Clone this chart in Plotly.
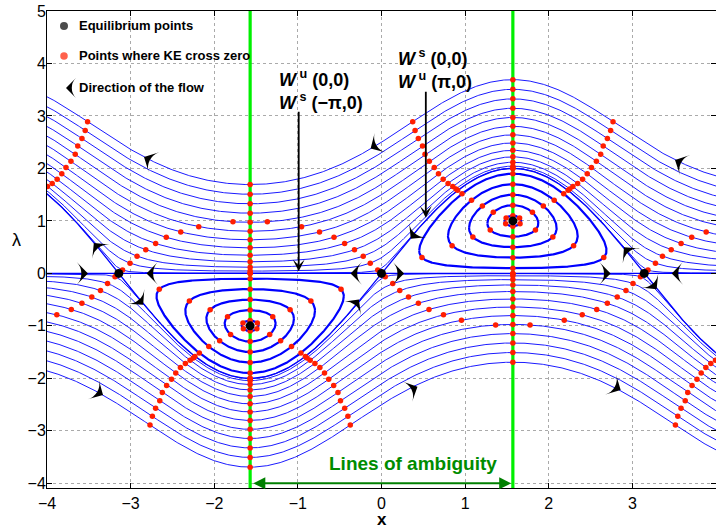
import numpy as np
import plotly.graph_objects as go

# ------------------------------------------------------------------
# Values
# ------------------------------------------------------------------
# lambda at x = +/-pi of every open flow line of the upper family
# (the lower family is the point mirror (x, l) -> (-x, -l))
open_lam_at_pi = [0.1, 0.3, 0.5, 0.7, 0.9, 1.1, 1.3, 1.5, 1.7, 1.9, 2.1, 2.3, 2.5]
# lambda at x = pi/2 of the lower crossing of each closed orbit round (pi/2, 1)
loop_lam_bottom = [0.1, 0.3, 0.5, 0.7, 0.9]
# equilibrium points
eq_x = [-np.pi, 0.0, np.pi, -np.pi / 2, np.pi / 2]
eq_y = [0.0, 0.0, 0.0, -1.0, 1.0]
# lines of ambiguity
amb_x = [-np.pi / 2, np.pi / 2]
# loci of the red "KE crosses zero" dots (upper half, one period)
ke_upper_x = [1.571, 1.34, 1.19, 1.07, 0.96, 0.86, 0.80, 0.74, 0.68, 0.63, 0.57, 0.52, 0.49, 0.44, 0.40, 0.37, 0.34]
ke_upper_y = [1.00, 1.16, 1.30, 1.40, 1.52, 1.65, 1.71, 1.79, 1.90, 2.02, 2.14, 2.27, 2.43, 2.57, 2.73, 2.91, 3.10]
ke_lower_x = [1.571, 1.29, 1.09, 0.85, 0.48, 0.0]
ke_lower_y = [1.00, 0.82, 0.69, 0.53, 0.30, 0.0]
ke_b_x = [-3.1416, -3.10, -3.01, -2.93, -2.82, -2.70, -2.57, -2.40, -2.19, -1.81, -1.571]
ke_b_y = [0.00, 0.06, 0.19, 0.32, 0.45, 0.57, 0.69, 0.79, 0.89, 0.98, 1.00]
# flow direction arrows
arrow_x = [-2.84, -3.44, -3.51, -2.81, -2.85, -0.37, 0.27, 0.35, -0.27, 2.90, 2.74, 3.47, 3.29, 3.51, 2.86, -3.33, 0.43, -0.13]
arrow_y = [2.22, 0.58, 0.0, 0.0, -0.60, 0.0, 0.0, 0.66, -0.50, 0.50, 0.0, 0.0, -0.30, 2.16, -2.22, -2.32, -2.16, 2.38]

# tick values
x_ticks = [-4, -3, -2, -1, 0, 1, 2, 3, 4]
y_ticks = [-4, -3, -2, -1, 0, 1, 2, 3, 4, 5]

# ------------------------------------------------------------------
# system: x' = sin x - l, l' = -l cos x ; first integral H = l sin x - l^2/2
# ------------------------------------------------------------------
def H(x, l):
    return l * np.sin(x) - l ** 2 / 2


XR = [-4, 4]
YR = [-4.09, 5.0005]
W, HH = 716, 529
ML, MR, MT, MB = 47, 0, 11, 41
sx = (W - ML - MR) / (XR[1] - XR[0])
sy = (HH - MT - MB) / (YR[1] - YR[0])

# open flow lines
xs = np.linspace(-4.3, 4.3, 700)
s = np.sin(xs)
ox, oy = [], []
open_c = [-(v ** 2) / 2 for v in open_lam_at_pi]
for c in open_c:
    r = np.sqrt(s ** 2 - 2 * c)
    for yy in (s + r, s - r):
        ox += list(xs) + [None]
        oy += list(yy) + [None]

# separatrices
sepx = list(xs) + [None] + list(xs)
sepy = [0.0] * len(xs) + [None] + list(2 * s)

# closed orbits
lx, ly = [], []
loop_c = [b - b ** 2 / 2 for b in loop_lam_bottom]
th = np.linspace(0, np.pi, 300)
for c in loop_c:
    xm = np.arcsin(np.sqrt(2 * c))
    xM = np.pi - xm
    xx = xm + (xM - xm) * (1 - np.cos(th)) / 2
    ss = np.sin(xx)
    r = np.sqrt(np.clip(ss ** 2 - 2 * c, 0, None))
    X = np.concatenate([xx, xx[::-1]])
    Y = np.concatenate([ss + r, (ss - r)[::-1]])
    lx += list(X) + [None] + list(-X) + [None]
    ly += list(Y) + [None] + list(-Y) + [None]


def on_locus(px, py, c, n=400):
    pts = []
    for i in range(len(px) - 1):
        t = np.linspace(0, 1, n, endpoint=False)
        pts.append(np.column_stack([px[i] + (px[i + 1] - px[i]) * t,
                                    py[i] + (py[i + 1] - py[i]) * t]))
    pts.append(np.array([[px[-1], py[-1]]]))
    P = np.vstack(pts)
    h = H(P[:, 0], P[:, 1]) - c
    idx = np.where(np.sign(h[:-1]) * np.sign(h[1:]) < 0)[0]
    if len(idx) == 0:
        return None
    i = idx[0]
    t = h[i] / (h[i] - h[i + 1])
    return P[i] + t * (P[i + 1] - P[i])


dots = []
for c in loop_c:
    for loc in ((ke_upper_x, ke_upper_y), (ke_lower_x, ke_lower_y)):
        p = on_locus(loc[0], loc[1], c)
        if p is not None:
            dots.append((p[0], p[1]))
            dots.append((np.pi - p[0], p[1]))
for c in open_c:
    p = on_locus(ke_upper_x, ke_upper_y, c)
    if p is not None:
        dots.append((p[0], p[1]))
        dots.append((np.pi - p[0], p[1]))
        dots.append((np.pi - p[0] - 2 * np.pi, p[1]))
    p = on_locus(ke_b_x, ke_b_y, c)
    if p is not None:
        for xv in (p[0], -np.pi - p[0]):
            dots.append((xv, p[1]))
            dots.append((xv + 2 * np.pi, p[1]))
# crossings of the lines of ambiguity
for c in open_c:
    r = np.sqrt(1 - 2 * c)
    dots.append((np.pi / 2, 1 + r))
    dots.append((-np.pi / 2, -1 + r))
for b in loop_lam_bottom:
    dots.append((np.pi / 2, b))
    dots.append((np.pi / 2, 2 - b))
dots.append((np.pi / 2, 2.0))
dots.append((np.pi / 2, 0.0))
# point mirror for the lower half
dots = dots + [(-a, -b) for (a, b) in dots]
dots = [d for d in dots if XR[0] - 0.02 <= d[0] <= XR[1] + 0.02]
dx = [d[0] for d in dots]
dy = [d[1] for d in dots]

# arrow angles from the flow direction
ax_ = np.array(arrow_x)
ay_ = np.array(arrow_y)
vx = (np.sin(ax_) - ay_) * sx
vy = (-ay_ * np.cos(ax_)) * sy
ang = np.degrees(np.arctan2(vx, vy))

BLUE = "rgb(0,0,255)"
fig = go.Figure()
fig.add_trace(go.Scatter(x=ox, y=oy, mode="lines", line=dict(color=BLUE, width=0.9), hoverinfo="skip"))
fig.add_trace(go.Scatter(x=sepx, y=sepy, mode="lines", line=dict(color=BLUE, width=1.3), hoverinfo="skip"))
fig.add_trace(go.Scatter(x=lx, y=ly, mode="lines", line=dict(color=BLUE, width=2.2), hoverinfo="skip"))
for xa in amb_x:
    fig.add_trace(go.Scatter(x=[xa, xa], y=YR, mode="lines", line=dict(color="rgb(0,240,0)", width=3.2), hoverinfo="skip"))
fig.add_trace(go.Scatter(x=dx, y=dy, mode="markers", marker=dict(color="rgb(255,30,0)", size=5.5, line=dict(width=0))))
fig.add_trace(go.Scatter(x=eq_x, y=eq_y, mode="markers", marker=dict(color="black", size=9, line=dict(width=0))))
fig.add_trace(go.Scatter(x=arrow_x, y=arrow_y, mode="markers",
                         marker=dict(symbol="arrow-wide", size=16, angle=ang, color="black", line=dict(width=0))))

# legend icons on an overlay axis in paper-like units
fig.add_trace(go.Scatter(x=[0.0254, 0.0254], y=[0.9686, 0.9057], xaxis="x2", yaxis="y2", mode="markers",
                         marker=dict(color=["black", "rgb(255,30,0)"], size=[8, 7.5], line=dict(width=0))))
fig.add_trace(go.Scatter(x=[0.0284], y=[0.8386], xaxis="x2", yaxis="y2", mode="markers",
                         marker=dict(symbol="arrow-wide", size=14, angle=-90, color="black", line=dict(width=0))))

FONT = "Liberation Sans, Arial, sans-serif"
ann = []
for txt, yv in (("Equilibrium points", 0.9686), ("Points where KE cross zero", 0.9057), ("Direction of the flow", 0.8386)):
    ann.append(dict(xref="paper", yref="paper", x=0.0455, y=yv, xanchor="left", yanchor="middle",
                    text="<b>" + txt + "</b>", showarrow=False, font=dict(size=13, family=FONT, color="black")))
ann.append(dict(x=-1.245, y=3.50, xanchor="left", yanchor="middle", showarrow=False, align="left",
                text="<b><i>W</i></b><sup><b> u</b></sup><b> (0,0)</b><br><b><i>W</i></b><sup><b> s</b></sup><b> (\u2212\u03c0,0)</b>",
                font=dict(size=18, family=FONT, color="black")))
ann.append(dict(x=0.175, y=3.90, xanchor="left", yanchor="middle", showarrow=False, align="left",
                text="<b><i>W</i></b><sup><b> s</b></sup><b> (0,0)</b><br><b><i>W</i></b><sup><b> u</b></sup><b> (\u03c0,0)</b>",
                font=dict(size=18, family=FONT, color="black")))
ann.append(dict(x=-0.99, y=0.04, ax=-0.99, ay=3.11, axref="x", ayref="y", text="", showarrow=True,
                arrowhead=3, arrowsize=1.1, arrowwidth=1.8, arrowcolor="black", standoff=0))
ann.append(dict(x=0.53, y=1.06, ax=0.53, ay=3.49, axref="x", ayref="y", text="", showarrow=True,
                arrowhead=3, arrowsize=1.1, arrowwidth=1.8, arrowcolor="black", standoff=0))
ann.append(dict(x=np.pi / 2 - 0.02, y=-4.0, ax=-np.pi / 2 + 0.02, ay=-4.0, axref="x", ayref="y", text="",
                showarrow=True, arrowhead=2, arrowside="end+start", arrowsize=1.2, arrowwidth=2,
                arrowcolor="rgb(0,128,0)", standoff=0, startstandoff=0))
ann.append(dict(x=0.378, y=-3.62, showarrow=False, text="<b>Lines of ambiguity</b>",
                font=dict(size=19, family=FONT, color="rgb(0,140,0)")))
ann.append(dict(xref="paper", yref="paper", x=0.5, y=-0.066, xanchor="center", yanchor="middle",
                showarrow=False, text="<b>x</b>", font=dict(size=17, family=FONT, color="black")))
ann.append(dict(xref="paper", yref="paper", x=-0.045, y=0.52, xanchor="center", yanchor="middle",
                showarrow=False, text="\u03bb", font=dict(size=18, family=FONT, color="black")))

axis_common = dict(showgrid=True, gridcolor="rgb(170,170,170)", griddash="dot", gridwidth=1,
                   zeroline=False, showline=True, linecolor="black", linewidth=1, mirror="ticks",
                   ticks="inside", ticklen=5, tickcolor="black", automargin=False,
                   tickfont=dict(size=16, family=FONT, color="black"))
fig.update_layout(
    width=W, height=HH, margin=dict(l=ML, r=MR, t=MT, b=MB, autoexpand=False),
    paper_bgcolor="white", plot_bgcolor="white", showlegend=False,
    xaxis=dict(range=XR, tickvals=x_ticks, ticklabelstandoff=1, **axis_common),
    yaxis=dict(range=YR, tickvals=y_ticks, ticklabelstandoff=-3, **axis_common),
    xaxis2=dict(range=[0, 1], overlaying="x", visible=False),
    yaxis2=dict(range=[0, 1], overlaying="y", visible=False),
    annotations=ann,
)
fig.write_html("out.html", config={"displayModeBar": False},
               post_script="document.body.style.margin='0';document.body.style.overflow='hidden';")
